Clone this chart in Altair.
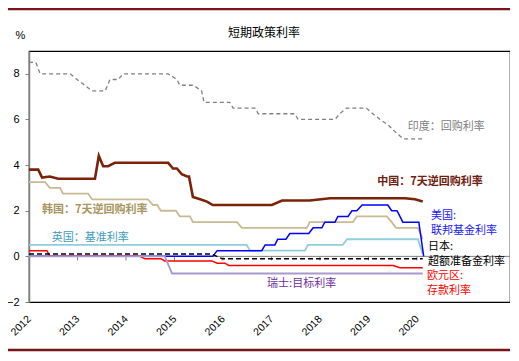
import altair as alt
import pandas as pd

# ---------------- data ----------------
years = [2012, 2013, 2014, 2015, 2016, 2017, 2018, 2019, 2020]

india_x = [2012.0, 2012.14, 2012.23, 2012.85, 2012.99, 2013.15, 2013.30, 2013.57, 2013.67, 2013.84,
           2013.94, 2014.87, 2015.05, 2015.11, 2015.39, 2015.56, 2015.61, 2016.14, 2016.21, 2016.66,
           2016.73, 2017.48, 2017.55, 2018.31, 2018.41, 2018.55, 2018.96, 2019.09, 2019.24, 2019.41,
           2019.58, 2019.72, 2020.13]
india_y = [8.5, 8.5, 8.0, 8.0, 7.75, 7.5, 7.25, 7.25, 7.75, 7.75,
           8.0, 8.0, 7.75, 7.5, 7.5, 7.25, 6.75, 6.75, 6.5, 6.5,
           6.25, 6.25, 6.0, 6.0, 6.25, 6.5, 6.5, 6.25, 6.0, 5.75,
           5.4, 5.15, 5.15]

china_x = [2012.0, 2012.19, 2012.27, 2012.43, 2012.6, 2013.36, 2013.44, 2013.53, 2013.63, 2013.77,
           2014.87, 2014.97, 2015.05, 2015.15, 2015.26, 2015.30, 2015.38, 2015.53, 2015.67, 2015.79,
           2017.01, 2017.22, 2017.79, 2018.21, 2019.75, 2019.96, 2020.12]
china_y = [3.8, 3.8, 3.45, 3.5, 3.4, 3.4, 4.4, 3.95, 3.95, 4.1,
           4.1, 3.85, 3.85, 3.6, 3.5, 3.5, 2.6, 2.5, 2.4, 2.25,
           2.25, 2.45, 2.45, 2.55, 2.55, 2.5, 2.4]

korea_x = [2012.0, 2012.33, 2012.43, 2012.64, 2012.70, 2013.22, 2013.30, 2014.45, 2014.56, 2014.64,
           2014.72, 2015.03, 2015.11, 2015.32, 2015.38, 2016.29, 2016.39, 2017.73, 2017.79, 2018.68,
           2018.76, 2019.38, 2019.48, 2019.57, 2020.02, 2020.12]
korea_y = [3.25, 3.25, 3.0, 3.0, 2.75, 2.75, 2.5, 2.5, 2.25, 2.25,
           2.0, 2.0, 1.75, 1.75, 1.5, 1.5, 1.25, 1.25, 1.5, 1.5,
           1.75, 1.75, 1.5, 1.25, 1.25, 0.75]

uk_x = [2012.0, 2016.49, 2016.56, 2017.69, 2017.75, 2018.47, 2018.56, 2020.02, 2020.12]
uk_y = [0.5, 0.5, 0.25, 0.25, 0.5, 0.5, 0.75, 0.75, 0.1]

us_x = [2012.0, 2015.79, 2015.88, 2016.80, 2016.87, 2017.07, 2017.13, 2017.30, 2017.38, 2017.77,
        2017.86, 2018.04, 2018.10, 2018.31, 2018.37, 2018.58, 2018.66, 2018.76, 2018.87, 2019.40,
        2019.48, 2019.59, 2019.65, 2019.71, 2020.04, 2020.14]
us_y = [0.0, 0.0, 0.25, 0.25, 0.5, 0.5, 0.75, 0.75, 1.0, 1.0,
        1.25, 1.25, 1.5, 1.5, 1.75, 1.75, 2.0, 2.0, 2.25, 2.25,
        2.0, 2.0, 1.75, 1.5, 1.5, 0.0]

euro_x = [2012.0, 2012.37, 2012.43, 2014.29, 2014.39, 2014.72, 2014.80, 2015.77, 2015.88, 2016.04,
          2016.12, 2019.51, 2019.65, 2020.12]
euro_y = [0.25, 0.25, 0.0, 0.0, -0.1, -0.1, -0.2, -0.2, -0.3, -0.3,
          -0.4, -0.4, -0.5, -0.5]

swiss_x = [2012.0, 2014.80, 2014.95, 2020.12]
swiss_y = [0.0, 0.0, -0.75, -0.75]

japan_x = [2012.0, 2015.77, 2015.98, 2020.12]
japan_y = [0.1, 0.1, -0.1, -0.1]

label_texts = ["印度：回购利率", "中国：7天逆回购利率", "韩国：7天逆回购利率", "英国：基准利率",
               "美国:\n联邦基金利率", "日本:\n超额准备金利率", "欧元区:\n存款利率", "瑞士:目标利率"]
label_x = [2019.81, 2019.18, 2012.27, 2012.47, 2020.29, 2020.23, 2020.21, 2016.91]
label_y = [5.68, 3.28, 2.05, 0.79, 1.79, 0.43, -0.85, -1.22]
label_colors = ["#808080", "#6e2010", "#a8955f", "#3f9cbc", "#1a1aff", "#000000", "#ff0000", "#7030a0"]
label_weights = ["normal", "bold", "bold", "normal", "normal", "normal", "normal", "normal"]

title_text = "短期政策利率"

# ---------------- chart ----------------
CJK = "Noto Sans CJK SC"
NUM = "Liberation Sans"

xscale = alt.Scale(domain=[2012, 2021.92], nice=False, zero=False)
yscale = alt.Scale(domain=[-2, 9], nice=False, zero=False)

xaxis = alt.Axis(values=years, format="d", labelAngle=-45, labelAlign="right", labelBaseline="middle",
                 domain=False, ticks=False, grid=False, labelFontSize=10.5, labelFont=NUM,
                 labelColor="black", labelPadding=15, title=None, labelOverlap=False)
yaxis = alt.Axis(values=[-2, 0, 2, 4, 6, 8], domainColor="#808080", domainWidth=1.5, tickColor="#808080",
                 tickSize=4, labelPadding=6, labelFontSize=11, labelFont=NUM, labelColor="black",
                 grid=False, title="%", titleAngle=0, titleX=-9, titleY=-16, titleAlign="center",
                 titleBaseline="middle", titleFontSize=11, titleFontWeight="normal", titleFont=NUM,
                 titleColor="black")


def X(field):
    return alt.X(field, scale=xscale, axis=xaxis)


def Y(field):
    return alt.Y(field, scale=yscale, axis=yaxis)


tick_df = pd.DataFrame({"x": years[1:], "y": [0] * 8, "y1": [-0.18] * 8})
ticks = alt.Chart(tick_df).mark_rule(color="#808080", strokeWidth=1).encode(
    x=X("x:Q"), y=Y("y:Q"), y2="y1:Q",
)

zero_df = pd.DataFrame({"y": [0]})
zero_line = alt.Chart(zero_df).mark_rule(color="#808080", strokeWidth=1).encode(y=Y("y:Q"))


def line_layer(xs, ys, color, width, dash=None):
    df = pd.DataFrame({"x": xs, "y": ys, "i": list(range(len(xs)))})
    kw = dict(color=color, strokeWidth=width, interpolate="linear")
    if dash:
        kw["strokeDash"] = dash
    return alt.Chart(df).mark_line(**kw).encode(x=X("x:Q"), y=Y("y:Q"), order="i:Q")


lines = [
    line_layer(india_x, india_y, "#808080", 1.3, [4, 3]),
    line_layer(korea_x, korea_y, "#c9b994", 1.8),
    line_layer(uk_x, uk_y, "#92cddc", 1.8),
    line_layer(us_x, us_y, "#0000ff", 1.5),
    line_layer(euro_x, euro_y, "#ff0000", 1.5),
    line_layer(swiss_x, swiss_y, "#a899cf", 1.8),
    line_layer(japan_x, japan_y, "#000000", 1.5, [5, 3]),
    line_layer(china_x, china_y, "#7a2308", 2.6),
]

lab_df = pd.DataFrame({"t": label_texts, "x": label_x, "y": label_y, "c": label_colors, "w": label_weights})


def label_layer(df, weight):
    return alt.Chart(df).mark_text(
        align="left", baseline="middle", font=CJK, fontSize=11, fontWeight=weight,
        lineBreak="\n", lineHeight=15
    ).encode(x=X("x:Q"), y=Y("y:Q"), text="t:N", color=alt.Color("c:N", scale=None))


labels_normal = label_layer(lab_df[lab_df.w == "normal"], "normal")
labels_bold = label_layer(lab_df[lab_df.w == "bold"], "bold")

deco_df = pd.DataFrame({"t": [title_text]})
title_mark = alt.Chart(deco_df).mark_text(
    font=CJK, fontSize=12, color="black", align="center", baseline="middle"
).encode(text="t:N", x=alt.value(235), y=alt.value(-18))
top_band = alt.Chart(deco_df).mark_rule(color="#7a1416", strokeWidth=2.5).encode(
    x=alt.value(-21), x2=alt.value(481), y=alt.value(-42)
)
bottom_band = alt.Chart(deco_df).mark_rule(color="#7a1416", strokeWidth=2.5).encode(
    x=alt.value(-21), x2=alt.value(481), y=alt.value(299)
)

chart = alt.layer(
    zero_line, ticks, *lines, labels_normal, labels_bold, title_mark, top_band, bottom_band
).properties(
    width=481,
    height=251,
    autosize=alt.AutoSizeParams(type="none"),
    padding={"left": 21, "top": 43, "right": 0, "bottom": 50},
).configure_view(
    stroke="black", strokeWidth=1.2
)

chart.save("out.html", embed_options={"renderer": "svg", "actions": False})
